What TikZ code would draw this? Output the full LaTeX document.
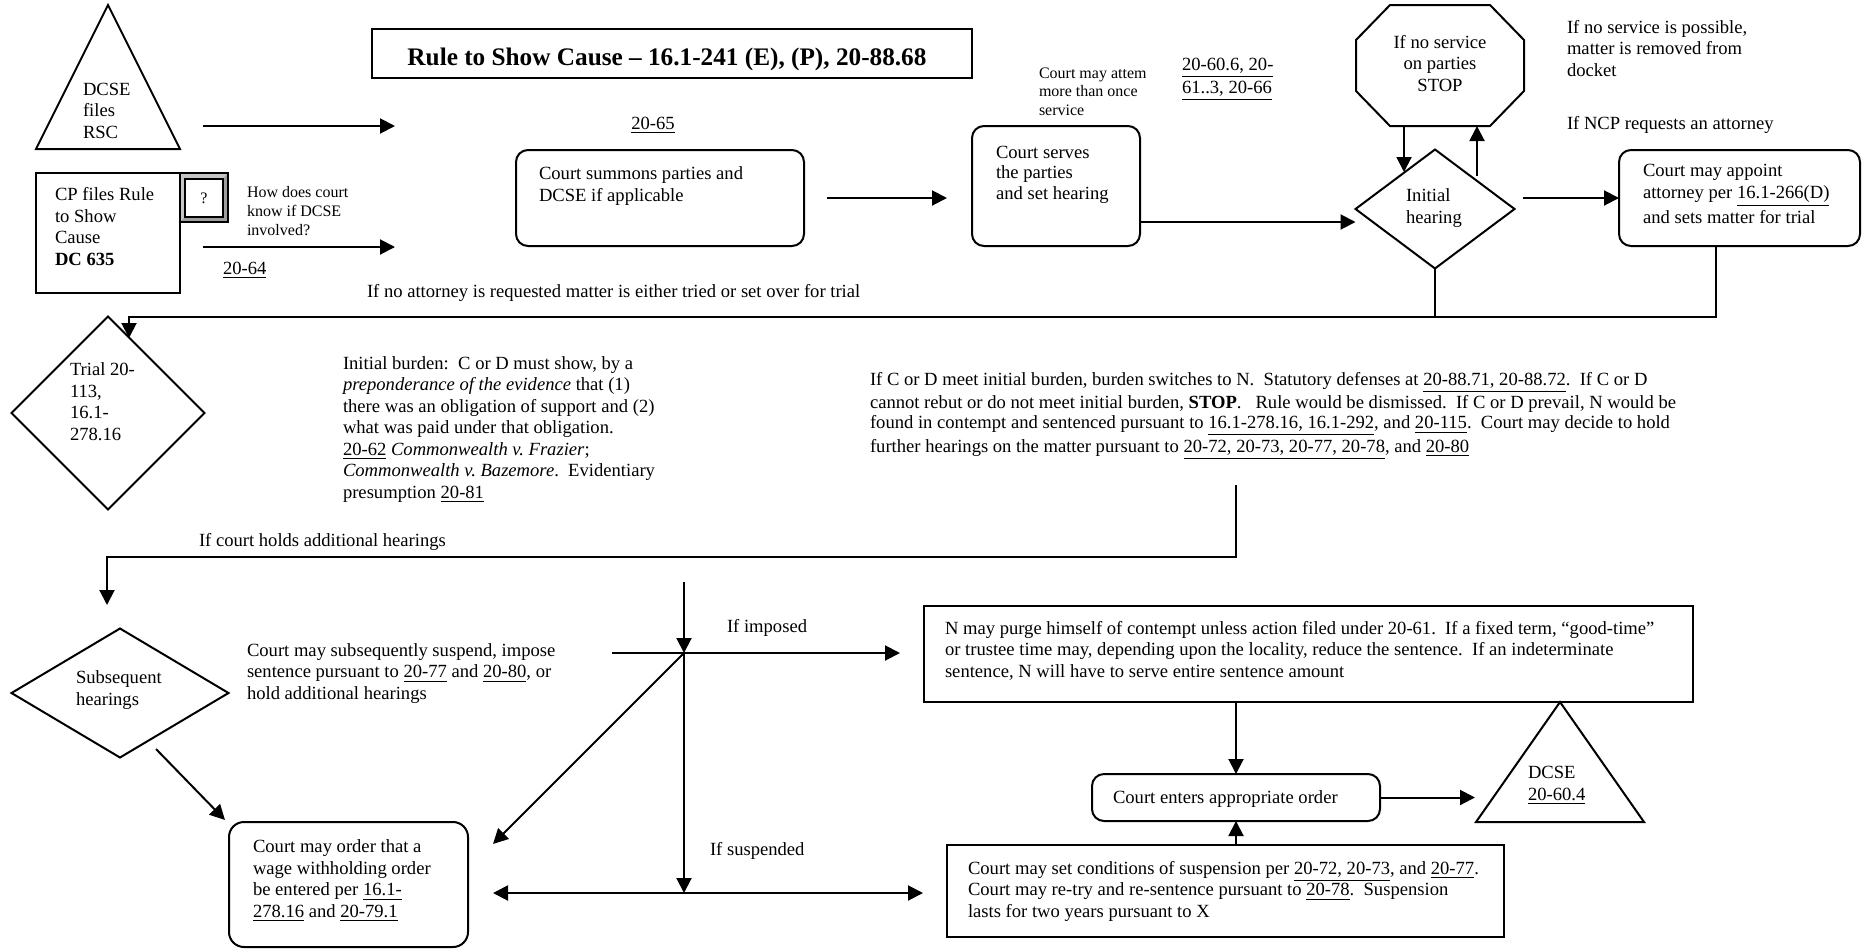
\documentclass[tikz,border=0pt]{standalone}
\usepackage{fontspec}
\setmainfont{Liberation Serif}
\usetikzlibrary{arrows.meta,shapes.geometric,fit,calc}
\frenchspacing
\newcommand{\dsp}{\hspace{0.5em}}
\begin{document}
\begin{tikzpicture}[x=0.4pt,y=-0.4pt,
  every node/.style={inner sep=0pt, outer sep=0pt},
  % multi-line texts are placed by the baseline of their last line
  txt/.style={anchor=base west, align=left, font=\fontsize{7.44}{8.6}\selectfont},
  smalltxt/.style={anchor=base west, align=left, font=\fontsize{6.4}{7.5}\selectfont},
  frame/.style={draw, line width=0.8pt},
  rbox/.style={frame, rounded corners=4.8pt},
  sbox/.style={frame},
  dia/.style={frame, diamond},
  arr/.style={line width=0.8pt, -{Triangle[length=6pt,width=6pt]}},
  darr/.style={line width=0.8pt, {Triangle[length=6pt,width=6pt]}-{Triangle[length=6pt,width=6pt]}},
  link/.style={line width=0.8pt},
]
\useasboundingbox (0,0) rectangle (1866,948);

% ---------- shapes ----------
\node[fit={(36,5)(180,149)}] (dcse) {};
\draw[frame] (dcse.south west) -- (dcse.north) -- (dcse.south east) -- cycle;

\node[sbox, fit={(36,173)(180,293)}] (cp) {};

% bevelled question button
\node[fit={(180,173)(228,222)}] (qbox) {};
\fill[gray!45] (qbox.north west) rectangle (qbox.south east);
\fill[gray!75] (qbox.north east) -- (qbox.south east) -- (qbox.south west)
  -- ($(qbox.south west)+(5,-5)$) -- ($(qbox.south east)+(-5,-5)$) -- ($(qbox.north east)+(-5,6)$) -- cycle;
\draw[line width=0.5pt] (qbox.north west) rectangle (qbox.south east);
\draw[line width=0.5pt, fill=white] ($(qbox.north west)+(5,6)$) rectangle ($(qbox.south east)+(-5,-5)$);
\node[font=\fontsize{6.4}{7.5}\selectfont] (qmark) at (204,198) {?};

\node[sbox, fit={(372,29)(972,78)}] (title) {};
\node[anchor=base, font=\bfseries\fontsize{10.1}{12}\selectfont] (titletxt) at (667,65)
  {Rule to Show Cause – 16.1-241 (E), (P), 20-88.68};

\node[rbox, fit={(516,150)(804,246)}] (summons) {};
\node[rbox, fit={(972,126)(1140,246)}] (serves) {};

% stop sign
\node[fit={(1356,5)(1524,126)}] (oct) {};
\draw[frame] ($(oct.north west)+(34,0)$) -- ($(oct.north east)+(-34,0)$) -- ($(oct.north east)+(0,35)$)
  -- ($(oct.south east)+(0,-35)$) -- ($(oct.south east)+(-34,0)$) -- ($(oct.south west)+(34,0)$)
  -- ($(oct.south west)+(0,-35)$) -- ($(oct.north west)+(0,35)$) -- cycle;

\node[dia, minimum width=63.6pt, minimum height=47.6pt] (init) at (1435,209) {};
\node[rbox, fit={(1619,150)(1860,246)}] (appoint) {};

\node[dia, minimum width=77.2pt, minimum height=77.2pt] (trial) at (108,413) {};
\node[dia, minimum width=86.8pt, minimum height=51.6pt] (subseq) at (120,693) {};

\node[rbox, rounded corners=6pt, fit={(229,822)(468,947)}] (wage) {};
\node[sbox, fit={(924,606)(1693,702)}] (purge) {};
\node[rbox, fit={(1092,774)(1380,821)}] (order) {};
\node[sbox, fit={(947,845)(1504,937)}] (susp) {};

\node[fit={(1476,702)(1644,822)}] (dcse2) {};
\draw[frame] (dcse2.south west) -- (dcse2.north) -- (dcse2.south east) -- cycle;

% ---------- texts ----------
\node[txt] (dcsetxt) at (83,138) {DCSE\\files\\RSC};
\node[txt] (cptxt) at (55,265) {CP files Rule\\to Show\\Cause\\\textbf{DC 635}};
\node[smalltxt] (howtxt) at (247,235) {How does court\\know if DCSE\\involved?};
\node[txt] (ref2064) at (223,274) {\underline{20-64}};
\node[txt, anchor=base] (ref2065) at (653,129) {\underline{20-65}};
\node[txt] (summonstxt) at (539,201) {Court summons parties and\\DCSE if applicable};
\node[txt] (noatty) at (367,297) {If no attorney is requested matter is either tried or set over for trial};
\node[txt, font=\fontsize{7.44}{8.2}\selectfont] (servestxt) at (996,199) {Court serves\\the parties\\and set hearing};
\begin{scope}
  \clip (1030,55) rectangle (1145,125);
  \node[smalltxt, font=\fontsize{6.4}{7.4}\selectfont] (attempt) at (1039,115) {Court may attempt\\more than once\\service};
\end{scope}
\node[txt, font=\fontsize{7.44}{8.0}\selectfont] (ref2060) at (1182,93) {\underline{20-60.6, 20-}\\\underline{61..3, 20-66}};
\node[txt, anchor=base, align=center] (octtxt) at (1440,91) {If no service\\on parties\\STOP};
\node[txt] (nosvc) at (1567,76) {If no service is possible,\\matter is removed from\\docket};
\node[txt] (ncp) at (1567,129) {If NCP requests an attorney};
\node[txt] (inittxt) at (1406,223) {Initial\\hearing};
\node[txt] (appointtxt) at (1643,223) {Court may appoint\\attorney per \underline{16.1-266(D)}\\and sets matter for trial};
\node[txt] (trialtxt) at (70,440) {Trial 20-\\113,\\16.1-\\278.16};
\node[txt] (burden) at (343,498) {Initial burden:\dsp C or D must show, by a\\
  \textit{preponderance of the evidence} that (1)\\
  there was an obligation of support and (2)\\
  what was paid under that obligation.\\
  \underline{20-62} \textit{Commonwealth v. Frazier};\\
  \textit{Commonwealth v. Bazemore}.\dsp Evidentiary\\
  presumption \underline{20-81}};
\node[txt, font=\fontsize{7.44}{7.9}\selectfont] (meet) at (870,452) {If C or D meet initial burden, burden switches to N.\dsp Statutory defenses at \underline{20-88.71, 20-88.72}.\dsp If C or D\\
  cannot rebut or do not meet initial burden, \textbf{STOP}.\dsp\ Rule would be dismissed.\dsp If C or D prevail, N would be\\
  found in contempt and sentenced pursuant to \underline{16.1-278.16, 16.1-292}, and \underline{20-115}.\dsp Court may decide to hold\\
  further hearings on the matter pursuant to \underline{20-72, 20-73, 20-77, 20-78}, and \underline{20-80}};
\node[txt] (addl) at (199,546) {If court holds additional hearings};
\node[txt] (subseqtxt) at (76,705) {Subsequent\\hearings};
\node[txt] (mayssusp) at (247,699) {Court may subsequently suspend, impose\\sentence pursuant to \underline{20-77} and \underline{20-80}, or\\hold additional hearings};
\node[txt] (wagetxt) at (253,917) {Court may order that a\\wage withholding order\\be entered per \underline{16.1-}\\\underline{278.16} and \underline{20-79.1}};
\node[txt] (imposed) at (727,632) {If imposed};
\node[txt] (purgetxt) at (945,677) {N may purge himself of contempt unless action filed under 20-61.\dsp If a fixed term, “good-time”\\
  or trustee time may, depending upon the locality, reduce the sentence.\dsp If an indeterminate\\
  sentence, N will have to serve entire sentence amount};
\node[txt] (ordertxt) at (1113,803) {Court enters appropriate order};
\node[txt] (dcse2txt) at (1528,800) {DCSE\\\underline{20-60.4}};
\node[txt] (suspended) at (710,855) {If suspended};
\node[txt] (susptxt) at (968,917) {Court may set conditions of suspension per \underline{20-72, 20-73}, and \underline{20-77}.\\
  Court may re-try and re-sentence pursuant to \underline{20-78}.\dsp Suspension\\
  lasts for two years pursuant to X};

% ---------- connectors ----------
\coordinate (a1s) at (203,126); \coordinate (a1e) at (395,126);
\coordinate (a2s) at (203,247); \coordinate (a2e) at (395,247);
\draw[arr] (a1s) -- (a1e);
\draw[arr] (a2s) -- (a2e);
\draw[arr, shorten <=9.2pt, shorten >=10pt] (summons.east) -- (summons.east -| serves.west);
\draw[arr] (serves.east |- 0,222) -- (init.west |- 0,222);
\draw[arr] (oct.south -| 1404,0) -- (1404,172);
\draw[arr] (1477,176) -- (oct.south -| 1477,0);
\draw[arr, shorten <=3.2pt] (init.east |- appoint.west) -- (appoint.west);

\coordinate (trialin) at (129,338);
\draw[arr] (appoint.south -| 1716,0) |- (129,317) -- (trialin);
\draw[link] (init.south) -- (init.south |- 0,317);

\coordinate (meetout) at (1236,485);
\coordinate (subin) at (107,605);
\draw[arr] (meetout) |- (107,557) -- (subin);

\coordinate (subout) at (156,749);
\coordinate (wagein) at (225,820);
\draw[arr] (subout) -- (wagein);

\coordinate (v0) at (684,582);
\coordinate (j1) at (684,653);
\coordinate (j2) at (684,893);
\coordinate (h0) at (612,653);
\coordinate (diagend) at (493,844);
\draw[arr] (v0) -- (j1);
\draw[arr] (j1) -- (j2);
\draw[arr, shorten >=9.6pt] (h0) -- (purge.west |- h0);
\draw[arr] (j1) -- (diagend);
\draw[darr, shorten <=10pt, shorten >=9.6pt] (wage.east |- j2) -- (susp.west |- j2);

\draw[arr] (purge.south -| order.north) -- (order.north);
\draw[arr] (susp.north -| order.south) -- (order.south);
\draw[arr, shorten >=34pt] (order.east) -- (order.east -| dcse2.center);
\end{tikzpicture}
\end{document}
